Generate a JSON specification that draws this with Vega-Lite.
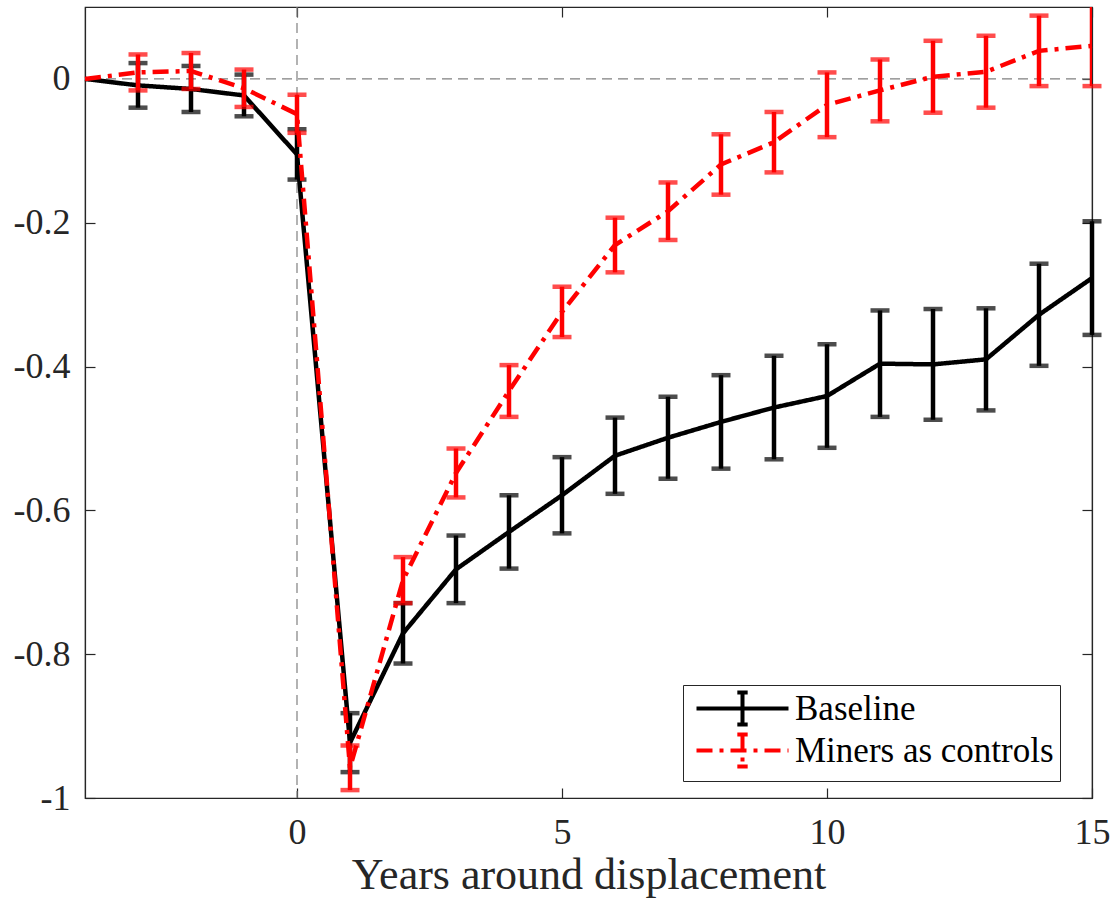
{
  "$schema": "https://vega.github.io/schema/vega-lite/v6.json",
  "width": 1007,
  "height": 791,
  "autosize": {"type": "none"},
  "padding": {"left": 85, "top": 7, "right": 24, "bottom": 103},
  "background": "white",
  "config": {
    "view": {"stroke": "#262626", "strokeWidth": 1.2},
    "font": "Liberation Serif",
    "axis": {
      "labelFont": "Liberation Serif",
      "titleFont": "Liberation Serif",
      "domainColor": "#262626",
      "domainWidth": 1.2,
      "tickColor": "#262626",
      "tickWidth": 1.2,
      "labelColor": "#262626",
      "titleColor": "#262626",
      "titleFontWeight": "normal",
      "grid": false
    },
    "legend": {
      "orient": "none",
      "legendX": 598,
      "legendY": 678,
      "strokeColor": "#262626",
      "fillColor": "white",
      "padding": 6,
      "labelFont": "Liberation Serif",
      "labelFontSize": 35,
      "labelColor": "black",
      "labelLimit": 500,
      "labelOffset": 35,
      "rowPadding": -15,
      "symbolType": "M-4,0H4M0,-1.4V1.4M-0.45,-1.4H0.45M-0.45,1.4H0.45",
      "symbolSize": 529,
      "symbolOffset": 36,
      "symbolStrokeWidth": 4,
      "symbolFillColor": "transparent"
    }
  },
  "data": {
    "values": [
      {"x": -4, "series": "Baseline", "y": 0, "lo": null, "hi": null},
      {"x": -3, "series": "Baseline", "y": -0.009, "lo": -0.040, "hi": 0.022},
      {"x": -2, "series": "Baseline", "y": -0.014, "lo": -0.046, "hi": 0.018},
      {"x": -1, "series": "Baseline", "y": -0.023, "lo": -0.052, "hi": 0.006},
      {"x": 0, "series": "Baseline", "y": -0.105, "lo": -0.140, "hi": -0.070},
      {"x": 1, "series": "Baseline", "y": -0.923, "lo": -0.964, "hi": -0.882},
      {"x": 2, "series": "Baseline", "y": -0.771, "lo": -0.813, "hi": -0.729},
      {"x": 3, "series": "Baseline", "y": -0.682, "lo": -0.729, "hi": -0.635},
      {"x": 4, "series": "Baseline", "y": -0.630, "lo": -0.681, "hi": -0.579},
      {"x": 5, "series": "Baseline", "y": -0.579, "lo": -0.632, "hi": -0.526},
      {"x": 6, "series": "Baseline", "y": -0.524, "lo": -0.577, "hi": -0.471},
      {"x": 7, "series": "Baseline", "y": -0.499, "lo": -0.556, "hi": -0.442},
      {"x": 8, "series": "Baseline", "y": -0.477, "lo": -0.542, "hi": -0.412},
      {"x": 9, "series": "Baseline", "y": -0.457, "lo": -0.529, "hi": -0.385},
      {"x": 10, "series": "Baseline", "y": -0.441, "lo": -0.513, "hi": -0.369},
      {"x": 11, "series": "Baseline", "y": -0.396, "lo": -0.470, "hi": -0.322},
      {"x": 12, "series": "Baseline", "y": -0.397, "lo": -0.474, "hi": -0.320},
      {"x": 13, "series": "Baseline", "y": -0.390, "lo": -0.461, "hi": -0.319},
      {"x": 14, "series": "Baseline", "y": -0.328, "lo": -0.399, "hi": -0.257},
      {"x": 15, "series": "Baseline", "y": -0.277, "lo": -0.356, "hi": -0.198},
      {"x": -4, "series": "Miners as controls", "y": 0, "lo": null, "hi": null},
      {"x": -3, "series": "Miners as controls", "y": 0.009, "lo": -0.016, "hi": 0.034},
      {"x": -2, "series": "Miners as controls", "y": 0.011, "lo": -0.014, "hi": 0.036},
      {"x": -1, "series": "Miners as controls", "y": -0.013, "lo": -0.039, "hi": 0.013},
      {"x": 0, "series": "Miners as controls", "y": -0.049, "lo": -0.075, "hi": -0.022},
      {"x": 1, "series": "Miners as controls", "y": -0.958, "lo": -0.989, "hi": -0.927},
      {"x": 2, "series": "Miners as controls", "y": -0.697, "lo": -0.729, "hi": -0.665},
      {"x": 3, "series": "Miners as controls", "y": -0.548, "lo": -0.582, "hi": -0.514},
      {"x": 4, "series": "Miners as controls", "y": -0.434, "lo": -0.470, "hi": -0.398},
      {"x": 5, "series": "Miners as controls", "y": -0.324, "lo": -0.359, "hi": -0.289},
      {"x": 6, "series": "Miners as controls", "y": -0.231, "lo": -0.269, "hi": -0.193},
      {"x": 7, "series": "Miners as controls", "y": -0.184, "lo": -0.224, "hi": -0.144},
      {"x": 8, "series": "Miners as controls", "y": -0.119, "lo": -0.161, "hi": -0.077},
      {"x": 9, "series": "Miners as controls", "y": -0.088, "lo": -0.130, "hi": -0.046},
      {"x": 10, "series": "Miners as controls", "y": -0.036, "lo": -0.081, "hi": 0.009},
      {"x": 11, "series": "Miners as controls", "y": -0.016, "lo": -0.059, "hi": 0.027},
      {"x": 12, "series": "Miners as controls", "y": 0.003, "lo": -0.047, "hi": 0.053},
      {"x": 13, "series": "Miners as controls", "y": 0.010, "lo": -0.040, "hi": 0.060},
      {"x": 14, "series": "Miners as controls", "y": 0.039, "lo": -0.010, "hi": 0.088},
      {"x": 15, "series": "Miners as controls", "y": 0.046, "lo": -0.010, "hi": 0.105}
    ]
  },
  "resolve": {"axis": {"x": "independent", "y": "independent"}},
  "layer": [
    {
      "data": {"values": [{}]},
      "mark": {"type": "rule", "color": "#808080", "strokeWidth": 1.2, "strokeDash": [10, 6]},
      "encoding": {
        "y": {"datum": 0, "type": "quantitative", "scale": {"domain": [-1, 0.1], "nice": false, "zero": false},
          "axis": {"orient": "right", "labels": false, "title": null, "values": [-1, -0.8, -0.6, -0.4, -0.2, 0], "tickSize": -10}}
      }
    },
    {
      "data": {"values": [{}]},
      "mark": {"type": "rule", "color": "#808080", "strokeWidth": 1.2, "strokeDash": [10, 6]},
      "encoding": {
        "x": {"datum": 0, "type": "quantitative", "scale": {"domain": [-4, 15], "nice": false, "zero": false},
          "axis": {"orient": "top", "labels": false, "title": null, "values": [0, 5, 10, 15], "tickSize": -10}}
      }
    },
    {
      "transform": [{"filter": "datum.series === 'Baseline'"}],
      "mark": {"type": "line", "strokeWidth": 4.5, "strokeJoin": "miter"},
      "encoding": {
        "x": {"field": "x", "type": "quantitative", "scale": {"domain": [-4, 15], "nice": false, "zero": false},
          "axis": {"orient": "bottom", "values": [0, 5, 10, 15], "tickSize": -10, "labelFontSize": 36, "labelPadding": 27, "labelFlush": false, "title": "Years around displacement", "titleFontSize": 44, "titlePadding": 3}},
        "y": {"field": "y", "type": "quantitative", "scale": {"domain": [-1, 0.1], "nice": false, "zero": false},
          "axis": {"orient": "left", "values": [-1, -0.8, -0.6, -0.4, -0.2, 0], "tickSize": -10, "labelFontSize": 36, "labelPadding": 25, "title": null,
            "labelExpr": "datum.value == 0 ? '0' : (datum.value == -1 ? '-1' : '-' + format(-datum.value, '.1f'))"}},
        "color": {"field": "series", "type": "nominal", "scale": {"domain": ["Baseline", "Miners as controls"], "range": ["#000000", "#ff0000"]}, "legend": {"title": null}},
        "strokeDash": {"field": "series", "type": "nominal", "scale": {"domain": ["Baseline", "Miners as controls"], "range": [[1, 0], [16, 7, 4, 7]]}, "legend": {"title": null}}
      }
    },
    {
      "transform": [{"filter": "datum.series === 'Baseline' && datum.lo != null"}],
      "mark": {"type": "rule", "color": "#000000", "strokeWidth": 4.5},
      "encoding": {
        "x": {"field": "x", "type": "quantitative", "axis": null},
        "y": {"field": "lo", "type": "quantitative", "axis": null},
        "y2": {"field": "hi"}
      }
    },
    {
      "transform": [{"filter": "datum.series === 'Baseline' && datum.lo != null"}],
      "mark": {"type": "tick", "color": "#000000", "thickness": 4.5, "size": 19, "orient": "horizontal"},
      "encoding": {
        "x": {"field": "x", "type": "quantitative", "axis": null},
        "y": {"field": "lo", "type": "quantitative", "axis": null}
      }
    },
    {
      "transform": [{"filter": "datum.series === 'Baseline' && datum.hi != null"}],
      "mark": {"type": "tick", "color": "#000000", "thickness": 4.5, "size": 19, "orient": "horizontal"},
      "encoding": {
        "x": {"field": "x", "type": "quantitative", "axis": null},
        "y": {"field": "hi", "type": "quantitative", "axis": null}
      }
    },
    {
      "transform": [{"filter": "datum.series === 'Miners as controls'"}],
      "mark": {"type": "line", "strokeWidth": 4.5, "strokeJoin": "miter"},
      "encoding": {
        "x": {"field": "x", "type": "quantitative", "axis": null},
        "y": {"field": "y", "type": "quantitative", "axis": null},
        "color": {"field": "series", "type": "nominal", "scale": {"domain": ["Baseline", "Miners as controls"], "range": ["#000000", "#ff0000"]}, "legend": {"title": null}},
        "strokeDash": {"field": "series", "type": "nominal", "scale": {"domain": ["Baseline", "Miners as controls"], "range": [[1, 0], [16, 7, 4, 7]]}, "legend": {"title": null}}
      }
    },
    {
      "transform": [{"filter": "datum.series === 'Miners as controls' && datum.lo != null"}],
      "mark": {"type": "rule", "color": "#ff0000", "strokeWidth": 4.5, "clip": true},
      "encoding": {
        "x": {"field": "x", "type": "quantitative", "axis": null},
        "y": {"field": "lo", "type": "quantitative", "axis": null},
        "y2": {"field": "hi"}
      }
    },
    {
      "transform": [{"filter": "datum.series === 'Miners as controls' && datum.lo != null"}],
      "mark": {"type": "tick", "color": "#ff0000", "thickness": 4.5, "size": 19, "orient": "horizontal"},
      "encoding": {
        "x": {"field": "x", "type": "quantitative", "axis": null},
        "y": {"field": "lo", "type": "quantitative", "axis": null}
      }
    },
    {
      "transform": [{"filter": "datum.series === 'Miners as controls' && datum.hi != null && datum.hi < 0.1"}],
      "mark": {"type": "tick", "color": "#ff0000", "thickness": 4.5, "size": 19, "orient": "horizontal"},
      "encoding": {
        "x": {"field": "x", "type": "quantitative", "axis": null},
        "y": {"field": "hi", "type": "quantitative", "axis": null}
      }
    }
  ]
}
